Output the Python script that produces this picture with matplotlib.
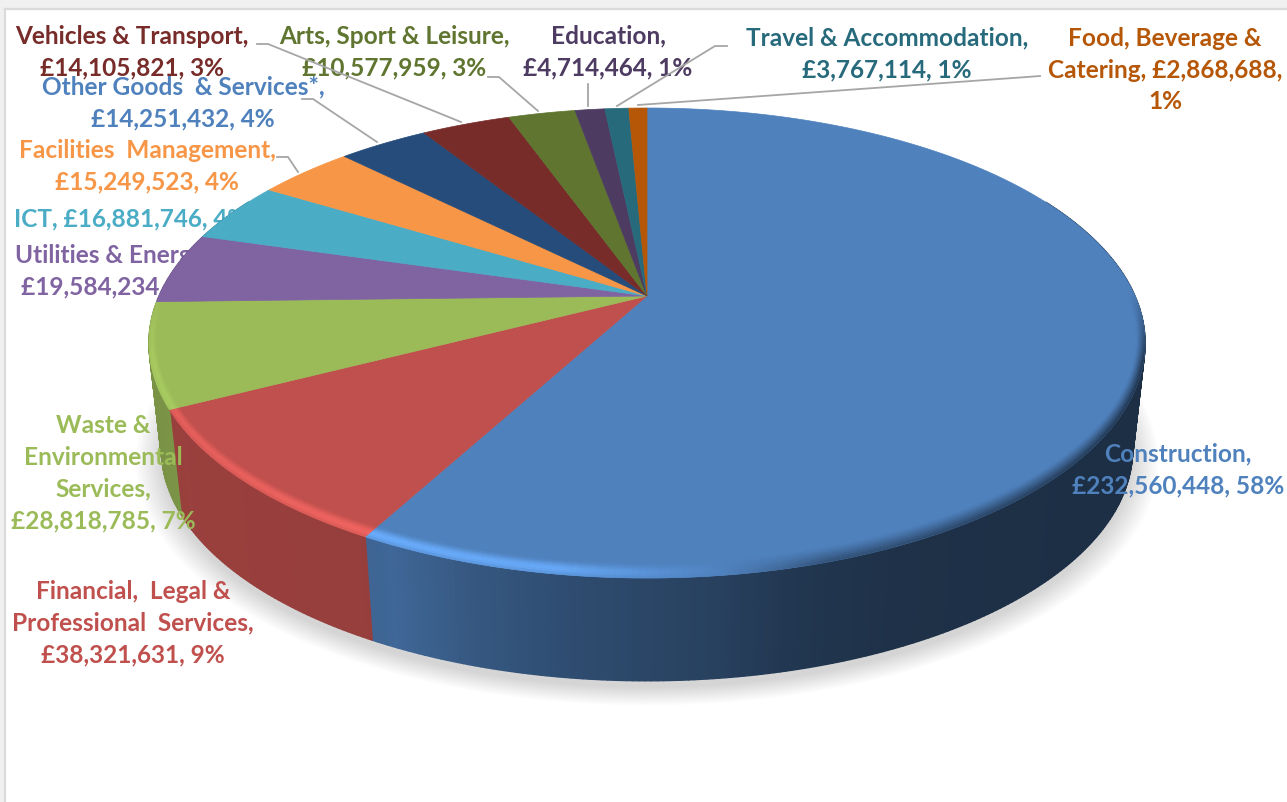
import numpy as np
import matplotlib
matplotlib.use("Agg")
import matplotlib.pyplot as plt
from matplotlib.collections import PolyCollection
from matplotlib.colors import to_rgb

categories = ["Construction", "Financial, Legal & Professional Services",
              "Waste & Environmental Services", "Utilities & Energy", "ICT",
              "Facilities Management", "Other Goods & Services*",
              "Vehicles & Transport", "Arts, Sport & Leisure", "Education",
              "Travel & Accommodation", "Food, Beverage & Catering"]
values = [232560448, 38321631, 28818785, 19584234, 16881746, 15249523,
          14251432, 14105821, 10577959, 4714464, 3767114, 2868688]
percents = [58, 9, 7, 5, 4, 4, 4, 3, 3, 1, 1, 1]
label_breaks = [
    "Construction,\n{v}, {p}%",
    "Financial,  Legal &\nProfessional  Services,\n{v}, {p}%",
    "Waste &\nEnvironmental\nServices,\n{v}, {p}%",
    "Utilities & Energy,\n{v}, {p}%",
    "ICT, {v}, {p}%",
    "Facilities  Management,\n{v}, {p}%",
    "Other Goods  & Services*,\n{v}, {p}%",
    "Vehicles & Transport,\n{v}, {p}%",
    "Arts, Sport & Leisure,\n{v}, {p}%",
    "Education,\n{v}, {p}%",
    "Travel & Accommodation,\n{v}, {p}%",
    "Food, Beverage &\nCatering, {v},\n{p}%",
]

slice_colors = ["#4F81BD", "#C0504D", "#9BBB59", "#8064A2", "#4BACC6", "#F79646",
                "#254C7A", "#772C2A", "#5F7530", "#4D3B62", "#276A7C", "#B65708"]
label_colors = ["#4F81BD", "#C0504D", "#9BBB59", "#8064A2", "#4BACC6", "#F79646",
                "#4F81BD", "#772C2A", "#5F7530", "#4D3B62", "#276A7C", "#B65708"]
label_centers = [(1178, 470), (133, 623), (103, 473), (113, 271), (131, 219), (147, 166),
                 (183, 103), (132, 52), (394, 52), (608, 52), (887, 54), (1165, 70)]
label_under_pie = [False, False, False, True, True, False,
                   False, False, False, False, False, False]
leaders = [None, None, None, None, None,
           [(277, 158), (288, 158), (298, 173)],
           [(302, 100), (313, 100), (377, 143)],
           [(257, 45), (268, 45), (461, 123)],
           [(488, 78), (499, 78), (538, 112)],
           [(588, 85), (588, 107)],
           [(727, 47), (715, 47), (617, 107)],
           [(1040, 77), (1027, 78), (638, 106)]]
highlight_gain = [1.0, 0.75, 0.35, 0.4, 1, 1, 1, 1, 1, 1, 1, 1]

# perspective of the disc in pixels
CX, CY, A, B, K = 647.0, 297.0, 225.6, 488.0, 0.2
DEPTH, SX, SY = 107.0, 0.975, 0.985


def proj(theta, r=1.0):
    u, w = r * np.sin(theta), -r * np.cos(theta)
    d = 1 - K * w
    return CX + B * u / d, CY + A * w / d


def proj_low(theta, r=1.0):
    x, y = proj(theta, r)
    return CX + (x - CX) * SX, CY + (y - CY) * SY + DEPTH


def shade(rgb, f):
    return tuple(np.clip(np.array(rgb) * f, 0, 1))


fig = plt.figure(figsize=(12.87, 8.03), dpi=100, facecolor="white")
ax = fig.add_axes([0, 0, 1, 1])
ax.set_xlim(0, 1287)
ax.set_ylim(803, 0)
ax.axis("off")

# window frame
ax.fill_between([0, 1287], 0, 9, color="#F0F0F0", lw=0, zorder=0)
ax.fill_between([0, 4], 0, 803, color="#F0F0F0", lw=0, zorder=0)
ax.plot([5, 1287], [10, 10], color="#DADADA", lw=1.6, zorder=0.5)
ax.plot([5, 5], [10, 803], color="#DADADA", lw=1.6, zorder=0.5)

values_arr = np.array(values, dtype=float)
edges = np.concatenate([[0], np.cumsum(values_arr) / values_arr.sum()]) * 2 * np.pi

# soft shadow under the disc
tt = np.linspace(0, 2 * np.pi, 361)
for r in np.linspace(1.0, 1.05, 14):
    x, y = proj_low(tt, r)
    ax.fill(x + 0, y + 7, color="black", alpha=0.012, lw=0, zorder=1)

# labels; the disc covers two of them
for i, cat in enumerate(categories):
    txt = label_breaks[i].format(v=f"£{values[i]:,}", p=percents[i])
    ax.text(*label_centers[i], txt, ha="center", va="center", multialignment="center",
            family="Lato", weight="bold", fontsize=17.6, color=label_colors[i],
            linespacing=1.46, zorder=2 if label_under_pie[i] else 8)

# side wall
side_x = [148, 180, 372, 390, 470, 560, 650, 720, 800, 900, 1150]
side_f = [0.78, 0.80, 0.78, 0.80, 0.68, 0.60, 0.54, 0.50, 0.42, 0.38, 0.36]
polys, cols = [], []
for i in range(len(values)):
    n = max(2, int((edges[i + 1] - edges[i]) / (np.pi / 300)))
    th = np.linspace(edges[i], edges[i + 1], n + 1)
    base = to_rgb(slice_colors[i])
    for a, b in zip(th[:-1], th[1:]):
        if -np.cos((a + b) / 2) < -0.45:
            continue
        xa, ya = proj(a)
        xb, yb = proj(b)
        xc, yc = proj_low(b)
        xd, yd = proj_low(a)
        polys.append([(xa, ya), (xb, yb), (xc, yc), (xd, yd)])
        cols.append(shade(base, np.interp((xa + xb) / 2, side_x, side_f)))
pc = PolyCollection(polys, facecolors=cols, edgecolors=cols, linewidths=1.0, zorder=3)
ax.add_collection(pc)

# top face
for i in range(len(values)):
    th = np.linspace(edges[i], edges[i + 1], max(3, int((edges[i + 1] - edges[i]) * 100)))
    x, y = proj(th)
    ax.fill(np.r_[CX, x], np.r_[CY, y], color=slice_colors[i], lw=0.5, zorder=4)

# bevel around the rim of the top face
T = np.linspace(0.0, 1.0, 9)
polys, cols = [], []
for i in range(len(values)):
    n = max(2, int((edges[i + 1] - edges[i]) / (np.pi / 300)))
    th = np.linspace(edges[i], edges[i + 1], n + 1)
    base = to_rgb(slice_colors[i])
    for a, b in zip(th[:-1], th[1:]):
        m = (a + b) / 2
        u, w = np.sin(m), -np.cos(m)
        fade = np.clip((w + 0.02) / 0.3, 0, 1)
        s = np.interp(u, [-1, -0.5, -0.15, 0.1, 0.3, 1], [0.7, 1, 0.9, 0.1, -0.6, -1]) * fade
        if s == 0:
            continue
        width = 0.045 * (1 - 0.65 * u * u)
        for t0, t1 in zip(T[:-1], T[1:]):
            t = (t0 + t1) / 2
            if s > 0:
                f = 1 + 0.34 * s * highlight_gain[i] * np.sin(np.pi * t * 0.75) ** 2
            else:
                f = 1 + 0.62 * s * t ** 1.2
            r0, r1 = 1 - width * (1 - t0), 1 - width * (1 - t1)
            pts = [proj(a, r0), proj(b, r0), proj(b, r1), proj(a, r1)]
            polys.append([(float(px), float(py)) for px, py in pts])
            cols.append(shade(base, f))
ax.add_collection(PolyCollection(polys, facecolors=cols, edgecolors=cols,
                                 linewidths=0.4, zorder=5))

# leader lines
for pts in leaders:
    if pts:
        ax.plot(*zip(*pts), color="#A6A6A6", lw=1.3, zorder=9, solid_joinstyle="miter")

fig.savefig("out.png", dpi=100)
